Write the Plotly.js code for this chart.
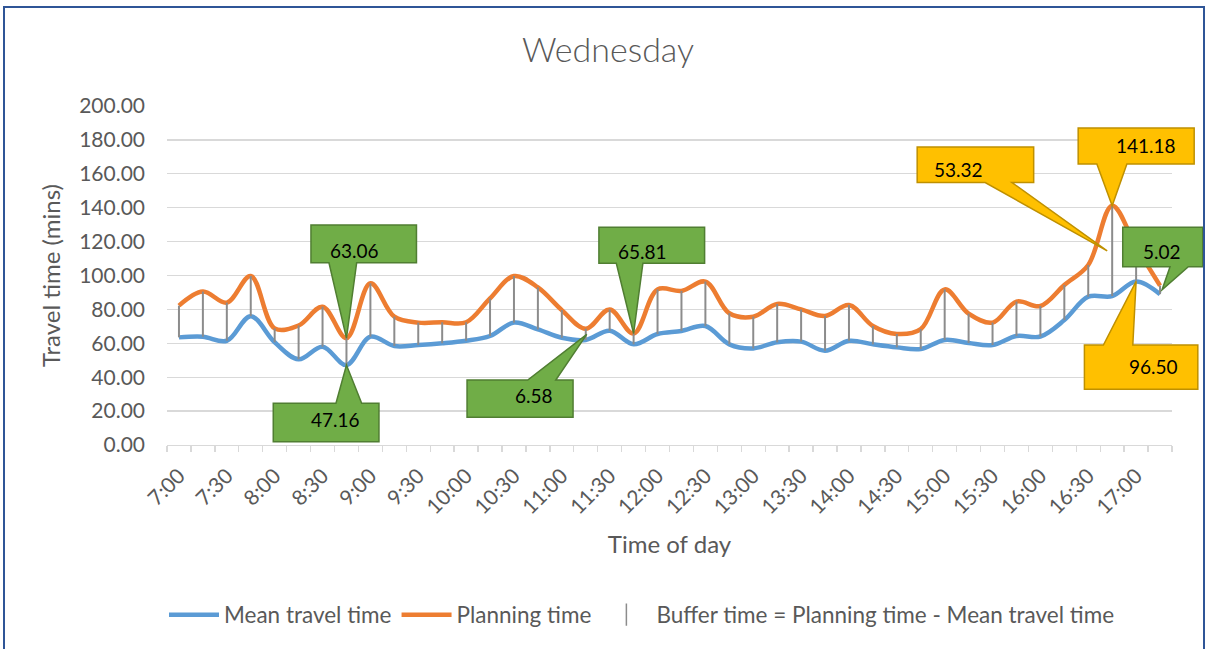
<!DOCTYPE html>
<html><head><meta charset="utf-8">
<script src="https://cdn.plot.ly/plotly-3.0.1.min.js"></script>
<style>
html,body{margin:0;padding:0;background:#fff;overflow:hidden}
#chart{width:1208px;height:649px}
#frame{position:absolute;left:3px;top:6px;width:1202px;height:700px;border:2px solid #2F5597;box-sizing:border-box;pointer-events:none}
</style></head><body>
<div id="chart"></div><div id="frame"></div>
<script>
// ---- data ----
const times = ['7:00','7:15','7:30','7:45','8:00','8:15','8:30','8:45','9:00','9:15','9:30','9:45',
  '10:00','10:15','10:30','10:45','11:00','11:15','11:30','11:45','12:00','12:15','12:30','12:45',
  '13:00','13:15','13:30','13:45','14:00','14:15','14:30','14:45','15:00','15:15','15:30','15:45',
  '16:00','16:15','16:30','16:45','17:00','17:15'];
const meanTime = [63.5,63.9,61.5,76.0,60.6,50.6,58.0,47.16,63.9,58.4,59.0,60.0,
  61.5,64.3,72.2,68.2,63.3,62.00,67.4,59.4,65.5,67.3,70.2,59.4,
  57.0,60.6,61.0,55.6,61.5,59.4,57.6,56.6,62.0,60.2,59.0,64.3,
  64.0,73.7,87.5,87.86,96.50,89.00];
const planTime = [82.2,90.5,84.0,99.7,68.8,70.5,81.6,63.06,95.4,75.7,72.2,72.4,
  72.4,86.5,99.7,93.0,79.6,68.58,80.0,65.81,91.8,90.9,96.4,77.7,
  75.7,83.2,80.0,76.1,82.6,70.2,65.5,68.4,91.8,77.5,72.2,84.6,
  82.0,94.4,106.2,141.18,117.0,94.02];
const tickLabels = ['7:00','7:30','8:00','8:30','9:00','9:30','10:00','10:30','11:00','11:30','12:00',
  '12:30','13:00','13:30','14:00','14:30','15:00','15:30','16:00','16:30','17:00'];
const yTicks = [0,20,40,60,80,100,120,140,160,180,200];
const seriesNames = ['Mean travel time','Planning time','Buffer time = Planning time - Mean travel time'];

// ---- callout styling (which point, what value, geometry in px relative to anchor, y up) ----
const callouts = [
  {time:'8:45',  kind:'plan',   col:'g', box:[-35.5,70,113,75.4],    base:[-17.5,10.2], tip:[0,0],  txt:[8.5,88]},
  {time:'8:45',  kind:'mean',   col:'g', box:[-73.2,32.5,-38.2,-76.6], base:[-10.5,15.2], tip:[0,0], txt:[-10.8,-54]},
  {time:'11:15', kind:'buffer', col:'g', box:[-118.7,-12.7,-45.7,-83], base:[-58,-30], tip:[1,0],  txt:[-52,-60.7]},
  {time:'11:45', kind:'plan',   col:'g', box:[-34.7,71,106.2,70.2],  base:[-17.3,9.3],  tip:[0,0],  txt:[9.3,81.8]},
  {time:'16:45', kind:'buffer', col:'y', box:[-195,-78.5,103.9,68.4], base:[-127,-100.3], tip:[-5,0], txt:[-154,81]},
  {time:'16:45', kind:'plan',   col:'y', box:[-34,82,77.7,41.7],     base:[-15.3,14.7], tip:[0,0],  txt:[34,60.7]},
  {time:'17:15', kind:'buffer', col:'g', box:[-37.3,42.7,62.6,23.2], base:[10,28.3],    tip:[2,0],  txt:[1.7,38.2]},
  {time:'17:00', kind:'mean',   col:'y', box:[-51.7,61.7,-63.6,-107.9], base:[-32.7,-3.3], tip:[0,0], txt:[17.3,-84.6]}
];
const calloutColors = {g:{fill:'#70AD47',line:'#507E32'}, y:{fill:'#FFC000',line:'#BF9000'}};

const FONT = 'Lato, "Open Sans", sans-serif';
const GREY = '#595959';
const idx = times.map((t,i)=>i);
const xRange = [-0.5, times.length - 0.5];

// drop (high-low) lines from data
const dropX = [], dropY = [];
idx.forEach(i => { dropX.push(i,i,null); dropY.push(meanTime[i], planTime[i], null); });

const traces = [
  {x: idx, y: meanTime, name: seriesNames[0], type:'scatter', mode:'lines',
   line:{color:'#5B9BD5', width:4.5, shape:'spline', smoothing:1}},
  {x: idx, y: planTime, name: seriesNames[1], type:'scatter', mode:'lines',
   line:{color:'#ED7D31', width:4.5, shape:'spline', smoothing:1}},
  {x: dropX, y: dropY, type:'scatter', mode:'lines', showlegend:false,
   line:{color:'#8C8C8C', width:2}},
  {x:[null], y:[null], name: seriesNames[2], type:'scatter', mode:'markers',
   marker:{symbol:'line-ns-open', size:40, color:'#8C8C8C', line:{color:'#8C8C8C', width:1.5}}}
];

function calloutPath(c) {
  const [L,R,T,B] = c.box, [a,b] = c.base, [tx,ty] = c.tip;
  if (B > 0) { // box above tip: wedge on bottom edge
    return `M ${L},${T} L ${R},${T} L ${R},${B} L ${b},${B} L ${tx},${ty} L ${a},${B} L ${L},${B} Z`;
  }
  return `M ${L},${B} L ${R},${B} L ${R},${T} L ${b},${T} L ${tx},${ty} L ${a},${T} L ${L},${T} Z`;
}

const shapes = [], annotations = [];
callouts.forEach(c => {
  const i = times.indexOf(c.time);
  let anchorY, label;
  if (c.kind === 'plan') { anchorY = planTime[i]; label = planTime[i].toFixed(2); }
  else if (c.kind === 'mean') { anchorY = meanTime[i]; label = meanTime[i].toFixed(2); }
  else { anchorY = (planTime[i] + meanTime[i]) / 2; label = (planTime[i] - meanTime[i]).toFixed(2); }
  const xPaper = (i - xRange[0]) / (xRange[1] - xRange[0]);
  const cc = calloutColors[c.col];
  shapes.push({type:'path', xref:'paper', yref:'y', xsizemode:'pixel', ysizemode:'pixel',
    xanchor:xPaper, yanchor:anchorY, path:calloutPath(c), fillcolor:cc.fill,
    line:{color:cc.line, width:1.5}, layer:'above'});
  annotations.push({x:i, y:anchorY, xref:'x', yref:'y', text:label, showarrow:false,
    xshift:c.txt[0], yshift:c.txt[1], font:{family:FONT, size:19, color:'#000'}});
});

const layout = {
  width:1208, height:649,
  margin:{l:167, r:36, t:106, b:204, pad:0},
  paper_bgcolor:'#fff', plot_bgcolor:'#fff',
  title:{text:'Wednesday', x:608/1208, xref:'container', xanchor:'center', y:1-50/649, yref:'container', yanchor:'middle',
    font:{family:FONT, size:34, weight:300, color:GREY}},
  xaxis:{range:xRange, tickmode:'array', tickvals:tickLabels.map(t=>times.indexOf(t)), ticktext:tickLabels,
    tickangle:-45, ticks:'', showgrid:false, zeroline:false, showline:true, linecolor:'#D9D9D9', linewidth:1.3,
    tickfont:{family:FONT, size:21, color:GREY}, ticklabelstandoff:9,
    minor:{tick0:-0.5, dtick:1, ticks:'outside', ticklen:6, tickcolor:'#D9D9D9', tickwidth:1.3, showgrid:false},
    title:{text:'Time of day', font:{family:FONT, size:24, color:GREY}, standoff:18}, automargin:true},
  yaxis:{range:[0,200], tickmode:'array', tickvals:yTicks, ticktext:yTicks.map(v=>v.toFixed(2)),
    ticks:'', showgrid:true, gridcolor:'#D9D9D9', gridwidth:1.3, zeroline:false, showline:false,
    tickfont:{family:FONT, size:21, color:GREY}, ticklabelstandoff:21,
    title:{text:'Travel time (mins)', font:{family:FONT, size:24, color:GREY}, standoff:11}, automargin:true},
  showlegend:true,
  legend:{orientation:'h', x:(642-167)/1005, xanchor:'center', y:(445-615)/339, yanchor:'middle',
    font:{family:FONT, size:22.5, color:GREY}, bgcolor:'rgba(0,0,0,0)', traceorder:'normal', itemwidth:50},
  shapes:shapes, annotations:annotations, hovermode:false
};

Plotly.newPlot('chart', traces, layout, {displayModeBar:false, staticPlot:true});
</script>
</body></html>
